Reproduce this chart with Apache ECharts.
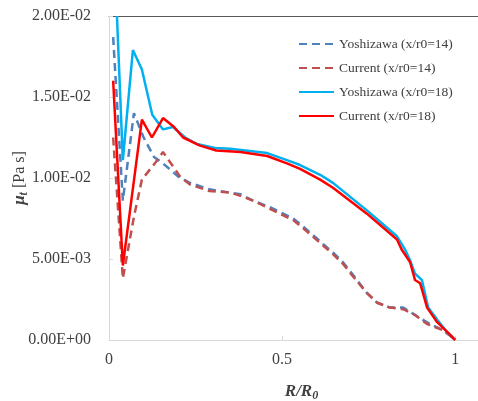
<!DOCTYPE html>
<html>
<head>
<meta charset="utf-8">
<script src="https://cdn.jsdelivr.net/npm/echarts@6/dist/echarts.min.js"></script>
<style>html,body{margin:0;padding:0;background:#fff;}#c{width:478px;height:401px;}</style>
</head>
<body>
<div id="c"></div>
<script>
// ---- data ----
const seriesNames = ['Yoshizawa (x/r0=14)', 'Current (x/r0=14)', 'Yoshizawa (x/r0=18)', 'Current (x/r0=18)'];

const yoshi14X = [0.012, 0.04, 0.072, 0.10, 0.13, 0.156, 0.205, 0.234, 0.29, 0.35, 0.38, 0.416, 0.465, 0.532, 0.561, 0.62, 0.647, 0.676, 0.702, 0.745, 0.775, 0.812, 0.85, 0.88, 0.918, 0.965, 0.99, 1.0];
const yoshi14Y = [0.0187, 0.0086, 0.0140, 0.0125, 0.0113, 0.0109, 0.0100, 0.0097, 0.0093, 0.0091, 0.0090, 0.0086, 0.0082, 0.0075, 0.0070, 0.0059, 0.0054, 0.0048, 0.0041, 0.0029, 0.0023, 0.0020, 0.0020, 0.0016, 0.0011, 0.0006, 0.0002, 0.0];

const curr14X = [0.012, 0.04, 0.072, 0.095, 0.136, 0.156, 0.205, 0.234, 0.29, 0.35, 0.38, 0.416, 0.465, 0.532, 0.561, 0.62, 0.647, 0.676, 0.702, 0.745, 0.775, 0.812, 0.85, 0.88, 0.918, 0.965, 0.99, 1.0];
const curr14Y = [0.0125, 0.0038, 0.0076, 0.0099, 0.0110, 0.0116, 0.0101, 0.0096, 0.0092, 0.0091, 0.0089, 0.0086, 0.0081, 0.0074, 0.0069, 0.0058, 0.0053, 0.0047, 0.0040, 0.0029, 0.0023, 0.0020, 0.0019, 0.0016, 0.0010, 0.0006, 0.0002, 0.0];

const yoshi18X = [0.023, 0.04, 0.069, 0.095, 0.125, 0.156, 0.185, 0.22, 0.254, 0.306, 0.35, 0.457, 0.514, 0.552, 0.61, 0.647, 0.745, 0.832, 0.855, 0.87, 0.884, 0.904, 0.922, 0.95, 0.98, 1.0];
const yoshi18Y = [0.0200, 0.0111, 0.0179, 0.0167, 0.0139, 0.0130, 0.01315, 0.0125, 0.0121, 0.01185, 0.0118, 0.01154, 0.0111, 0.0108, 0.0102, 0.0097, 0.0080, 0.0064, 0.0056, 0.0049, 0.0041, 0.0037, 0.0020, 0.0012, 0.0004, 0.0];

const curr18X = [0.012, 0.04, 0.095, 0.124, 0.156, 0.188, 0.214, 0.263, 0.31, 0.38, 0.457, 0.514, 0.552, 0.61, 0.647, 0.745, 0.832, 0.845, 0.87, 0.884, 0.899, 0.919, 0.948, 0.977, 1.0];
const curr18Y = [0.0160, 0.0046, 0.0136, 0.0125, 0.0137, 0.01315, 0.0125, 0.0120, 0.0117, 0.0116, 0.01136, 0.0109, 0.01056, 0.0099, 0.0094, 0.0078, 0.0062, 0.0056, 0.0048, 0.0037, 0.0035, 0.0020, 0.0011, 0.0005, 0.0];

const xTickLabels = ['0', '0.5', '1'];

// ---- helpers ----
function pairs(xs, ys) { return xs.map((x, i) => [x, ys[i]]); }
function sci(v) {
  const s = Number(v).toExponential(2).split('e');
  let e = parseInt(s[1], 10);
  const sign = e < 0 ? '-' : '+';
  e = Math.abs(e);
  return s[0] + 'E' + sign + (e < 10 ? '0' + e : '' + e);
}

const serif = '"Liberation Serif", "Times New Roman", serif';
const chart = echarts.init(document.getElementById('c'), null, { renderer: 'canvas' });

chart.setOption({
  animation: false,
  backgroundColor: '#ffffff',
  grid: { left: 109, top: 16, right: 0, bottom: 61, containLabel: false, outerBoundsMode: 'none' },
  legend: {
    orient: 'vertical',
    left: 298,
    top: 37,
    padding: 0,
    itemWidth: 35,
    itemHeight: 12,
    itemGap: 10,
    data: seriesNames,
    itemStyle: { opacity: 0 },
    textStyle: { fontFamily: serif, fontSize: 13.5, color: '#404040' }
  },
  xAxis: [{
    type: 'value',
    min: 0,
    max: 1.066,
    interval: 0.5,
    axisLine: { show: true, lineStyle: { color: '#d9d9d9', width: 1 } },
    axisTick: { show: true, inside: true, length: 4, lineStyle: { color: '#d9d9d9' } },
    splitLine: { show: false },
    axisLabel: {
      showMaxLabel: false,
      margin: 12,
      fontFamily: serif, fontSize: 16, color: '#404040',
      formatter: function (v) {
        const idx = Math.round(v / 0.5);
        return Math.abs(v - idx * 0.5) < 1e-6 && idx < xTickLabels.length ? xTickLabels[idx] : '';
      }
    },
    name: '{a|R/R}{b|0}',
    nameLocation: 'middle',
    nameGap: 42,
    nameMoveOverlap: false,
    nameTextStyle: {
      padding: [0, 0, 0, 16],
      rich: {
        a: { fontFamily: serif, fontSize: 17, fontWeight: 'bold', fontStyle: 'italic', color: '#404040' },
        b: { fontFamily: serif, fontSize: 12, fontWeight: 'bold', fontStyle: 'italic', color: '#404040', verticalAlign: 'bottom', padding: [8, 0, 0, 0] }
      }
    }
  }, {
    type: 'value',
    position: 'top',
    min: 0,
    max: 1.066,
    axisLine: { show: true, onZero: false, lineStyle: { color: '#595959', width: 1 } },
    axisTick: { show: false },
    axisLabel: { show: false },
    splitLine: { show: false }
  }],
  yAxis: {
    type: 'value',
    min: 0,
    max: 0.02,
    interval: 0.005,
    axisLine: { show: true, lineStyle: { color: '#d9d9d9', width: 1 } },
    axisTick: { show: true, inside: true, length: 4, lineStyle: { color: '#d9d9d9' } },
    splitLine: { show: false },
    axisLabel: {
      margin: 18,
      fontFamily: serif, fontSize: 16, color: '#404040',
      formatter: sci
    },
    name: '{a|μ}{b|t}{c| [Pa s]}',
    nameLocation: 'middle',
    nameGap: 79,
    nameRotate: 90,
    nameMoveOverlap: false,
    nameTextStyle: {
      padding: [0, 0, 0, 0],
      rich: {
        a: { fontFamily: serif, fontSize: 17, fontWeight: 'bold', fontStyle: 'italic', color: '#404040' },
        b: { fontFamily: serif, fontSize: 12, fontWeight: 'bold', fontStyle: 'italic', color: '#404040', verticalAlign: 'bottom', padding: [8, 0, 0, 0] },
        c: { fontFamily: serif, fontSize: 16, color: '#404040' }
      }
    }
  },
  series: [
    {
      name: seriesNames[0], type: 'line', symbol: 'none', xAxisIndex: 0,
      data: pairs(yoshi14X, yoshi14Y),
      lineStyle: { color: '#4F81BD', width: 2.5, type: [8, 5] },
      itemStyle: { color: '#4F81BD' }
    },
    {
      name: seriesNames[1], type: 'line', symbol: 'none', xAxisIndex: 0,
      data: pairs(curr14X, curr14Y),
      lineStyle: { color: '#C0504D', width: 2.5, type: [8, 5] },
      itemStyle: { color: '#C0504D' }
    },
    {
      name: seriesNames[2], type: 'line', symbol: 'none', xAxisIndex: 0,
      data: pairs(yoshi18X, yoshi18Y),
      lineStyle: { color: '#00B0F0', width: 2.5 },
      itemStyle: { color: '#00B0F0' }
    },
    {
      name: seriesNames[3], type: 'line', symbol: 'none', xAxisIndex: 0,
      data: pairs(curr18X, curr18Y),
      lineStyle: { color: '#FF0000', width: 2.5 },
      itemStyle: { color: '#FF0000' }
    }
  ]
});
</script>
</body>
</html>
